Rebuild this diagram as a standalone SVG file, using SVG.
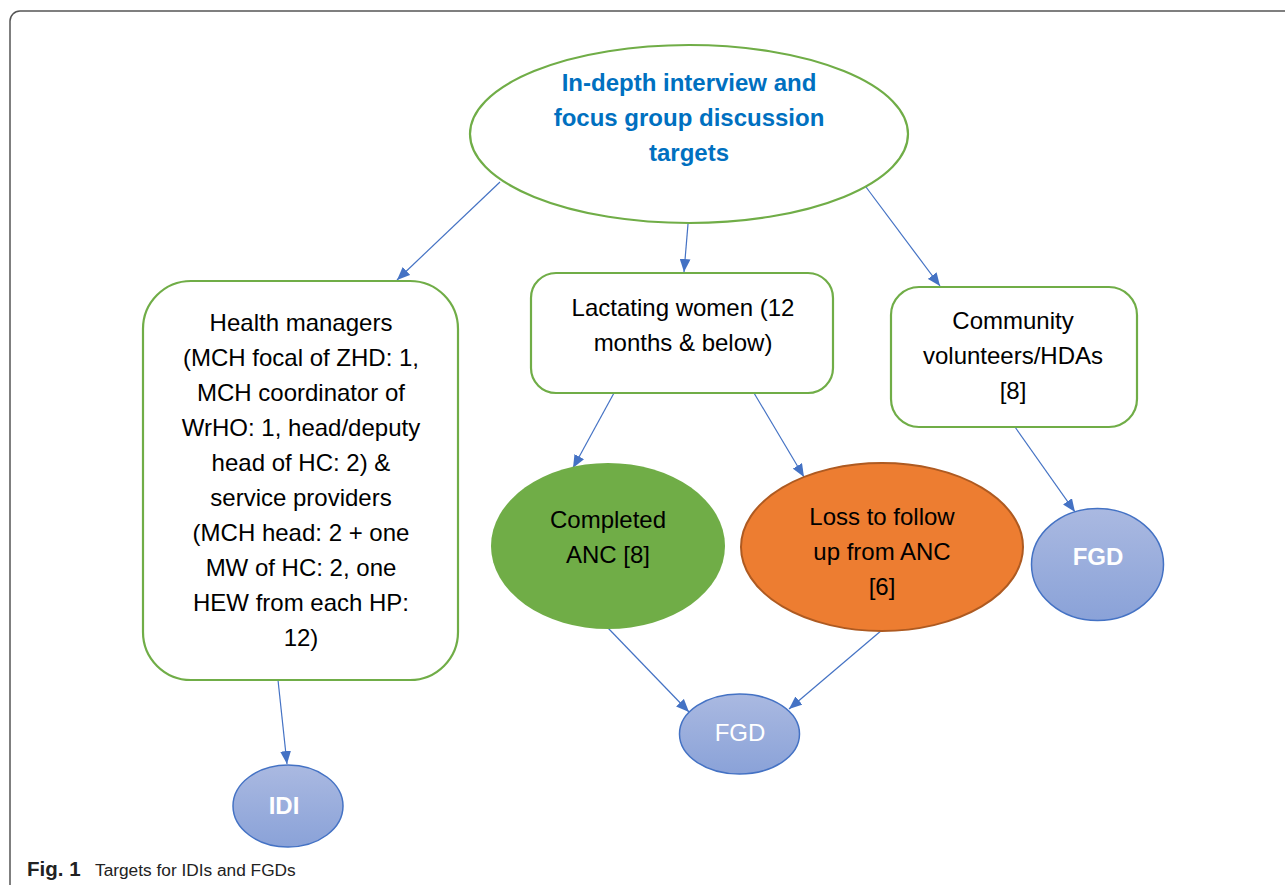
<svg xmlns="http://www.w3.org/2000/svg" width="1285" height="885" viewBox="0 0 1285 885">
<style>
.t{font-family:"Liberation Sans",Arial,sans-serif;font-size:24px;fill:#000;text-anchor:middle}
.title{font-family:"Liberation Sans",Arial,sans-serif;font-size:24px;font-weight:bold;fill:#0070C0;text-anchor:middle}
.box{fill:#fff;stroke:#70AD47;stroke-width:2.2}
.blue{fill:url(#g);stroke:#4472C4;stroke-width:1.5}
.wt{font-family:"Liberation Sans",Arial,sans-serif;font-size:24px;fill:#fff;text-anchor:middle}
.conn line{stroke:#4472C4;stroke-width:1.2;marker-end:url(#arr)}
</style>
<defs>
<linearGradient id="g" x1="0" y1="0" x2="0" y2="1">
<stop offset="0" stop-color="#AAB9E1"/>
<stop offset="1" stop-color="#8AA2D8"/>
</linearGradient>
<marker id="arr" viewBox="0 0 12 10" refX="12" refY="5" markerWidth="13" markerHeight="11" markerUnits="userSpaceOnUse" orient="auto">
<path d="M0,0 L12,5 L0,10 Z" fill="#4472C4"/>
</marker>
</defs>
<rect width="1285" height="885" fill="#fff"/>
<rect x="10" y="11" width="1300" height="900" rx="10" fill="none" stroke="#555" stroke-width="1.5"/>

<g id="connectors" class="conn">
<line x1="500" y1="182" x2="397" y2="280"/>
<line x1="688" y1="224" x2="684" y2="272"/>
<line x1="863" y1="183" x2="940" y2="286"/>
<line x1="614" y1="393" x2="573" y2="468"/>
<line x1="754" y1="393" x2="804" y2="477"/>
<line x1="1015" y1="427" x2="1075" y2="512"/>
<line x1="278" y1="680" x2="287" y2="764"/>
<line x1="608" y1="628" x2="689" y2="712"/>
<line x1="882" y1="630" x2="789" y2="709"/>
</g>

<g id="root">
<ellipse cx="689" cy="134" rx="219" ry="89" class="box"/>
<text class="title" x="689" y="91">In-depth interview and</text>
<text class="title" x="689" y="126">focus group discussion</text>
<text class="title" x="689" y="161">targets</text>
</g>

<g id="health">
<rect x="143" y="281" width="315" height="399" rx="48" class="box"/>
<text class="t" x="301" y="331">Health managers</text>
<text class="t" x="301" y="366">(MCH focal of ZHD: 1,</text>
<text class="t" x="301" y="401">MCH coordinator of</text>
<text class="t" x="301" y="436">WrHO: 1, head/deputy</text>
<text class="t" x="301" y="471">head of HC: 2) &amp;</text>
<text class="t" x="301" y="506">service providers</text>
<text class="t" x="301" y="541">(MCH head: 2 + one</text>
<text class="t" x="301" y="576">MW of HC: 2, one</text>
<text class="t" x="301" y="611">HEW from each HP:</text>
<text class="t" x="301" y="646">12)</text>
</g>

<g id="lactating">
<rect x="531" y="273" width="302" height="120" rx="25" class="box"/>
<text class="t" x="683" y="316">Lactating women (12</text>
<text class="t" x="683" y="351">months &amp; below)</text>
</g>

<g id="community">
<rect x="891" y="287" width="246" height="140" rx="28" class="box"/>
<text class="t" x="1013" y="329">Community</text>
<text class="t" x="1013" y="364">volunteers/HDAs</text>
<text class="t" x="1013" y="399">[8]</text>
</g>

<g id="completed">
<ellipse cx="608" cy="546" rx="117" ry="83" fill="#70AD47"/>
<text class="t" x="608" y="528">Completed</text>
<text class="t" x="608" y="563">ANC [8]</text>
</g>

<g id="loss">
<ellipse cx="882" cy="547" rx="141" ry="84" fill="#ED7D31" stroke="#AE5A21" stroke-width="2"/>
<text class="t" x="882" y="525">Loss to follow</text>
<text class="t" x="882" y="560">up from ANC</text>
<text class="t" x="882" y="595">[6]</text>
</g>

<g id="fgd-right">
<ellipse cx="1097.5" cy="564.5" rx="66" ry="56" class="blue"/>
<text class="wt" x="1098" y="565" font-weight="bold">FGD</text>
</g>

<g id="fgd-bottom">
<ellipse cx="739.5" cy="734" rx="60" ry="40" class="blue"/>
<text class="wt" x="740" y="741">FGD</text>
</g>

<g id="idi">
<ellipse cx="288" cy="806" rx="55" ry="41" class="blue"/>
<text class="wt" x="284" y="814" font-weight="bold">IDI</text>
</g>

<g id="caption">
<text x="27" y="876" font-family="'Liberation Sans',Arial,sans-serif" font-size="20.5" font-weight="bold" fill="#222">Fig. 1</text>
<text x="95" y="876" font-family="'Liberation Sans',Arial,sans-serif" font-size="17.3" fill="#222">Targets for IDIs and FGDs</text>
</g>
</svg>
